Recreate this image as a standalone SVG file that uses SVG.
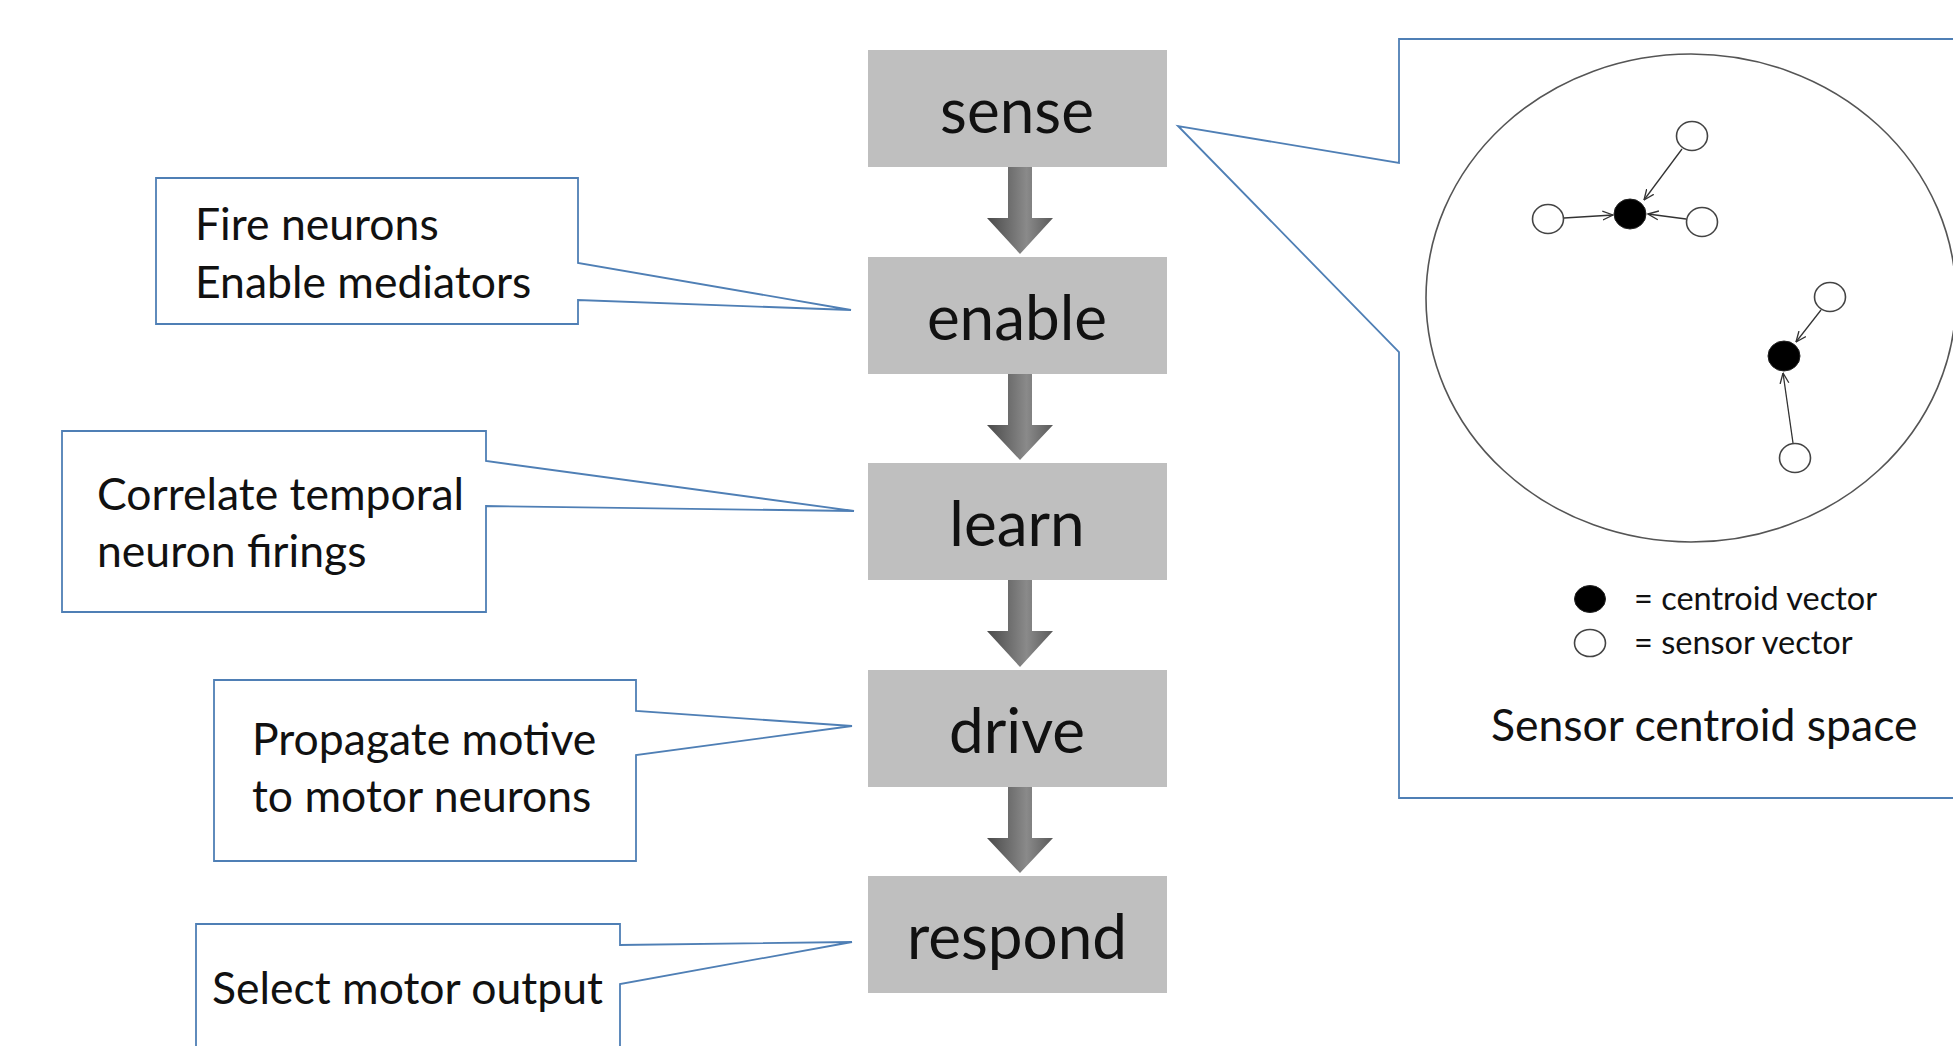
<svg xmlns="http://www.w3.org/2000/svg" width="1953" height="1046" viewBox="0 0 1953 1046">
  <defs>
    <linearGradient id="flowGrad" x1="0" y1="0" x2="1" y2="0">
      <stop offset="0" stop-color="#4a4a4a"/>
      <stop offset="0.6" stop-color="#8a8a8a"/>
      <stop offset="1" stop-color="#5a5a5a"/>
    </linearGradient>
    <marker id="vee" viewBox="0 0 10 10" refX="9.5" refY="5" markerWidth="11" markerHeight="11" markerUnits="userSpaceOnUse" orient="auto">
      <path d="M0,1 L9.5,5 L0,9" fill="none" stroke="#333" stroke-width="1.2"/>
    </marker>
    <style>
      .step { fill: #bfbfbf; }
      .stepText { font-family: Lato, "Open Sans", sans-serif; font-size: 62px; fill: #111; text-anchor: middle; }
      .callout { fill: #fff; stroke: #4f7fb5; stroke-width: 1.8; stroke-linejoin: miter; }
      .note { font-family: Lato, "Open Sans", sans-serif; font-size: 44.5px; fill: #111; }
      .flow { fill: url(#flowGrad); }
      .space { fill: none; stroke: #555; stroke-width: 1.6; }
      .sensor { fill: #fff; stroke: #444; stroke-width: 1.6; }
      .centroid { fill: #000; stroke: #222; stroke-width: 1; }
      .pull { stroke: #333; stroke-width: 1.3; fill: none; marker-end: url(#vee); }
      .legend { font-family: Lato, "Open Sans", sans-serif; font-size: 32.5px; fill: #111; }
      .caption { font-family: Lato, "Open Sans", sans-serif; font-size: 44.5px; fill: #111; }
    </style>
  </defs>

  <rect width="1953" height="1046" fill="#fff"/>

  <!-- processing steps -->
  <g id="sense">
    <rect class="step" x="868" y="50" width="299" height="117"/>
    <text class="stepText" x="1017" y="133">sense</text>
  </g>
  <g id="enable">
    <rect class="step" x="868" y="257" width="299" height="117"/>
    <text class="stepText" x="1017" y="340">enable</text>
  </g>
  <g id="learn">
    <rect class="step" x="868" y="463" width="299" height="117"/>
    <text class="stepText" x="1017" y="546">learn</text>
  </g>
  <g id="drive">
    <rect class="step" x="868" y="670" width="299" height="117"/>
    <text class="stepText" x="1017" y="753">drive</text>
  </g>
  <g id="respond">
    <rect class="step" x="868" y="876" width="299" height="117"/>
    <text class="stepText" x="1017" y="959">respond</text>
  </g>

  <!-- block arrows between steps -->
  <g id="connectors">
    <path class="flow" d="M1008,167 H1032 V218 H1053 L1020,254 L987,218 H1008 Z"/>
    <path class="flow" d="M1008,374 H1032 V425 H1053 L1020,460 L987,425 H1008 Z"/>
    <path class="flow" d="M1008,580 H1032 V631 H1053 L1020,667 L987,631 H1008 Z"/>
    <path class="flow" d="M1008,787 H1032 V838 H1053 L1020,873 L987,838 H1008 Z"/>
  </g>

  <!-- callouts on the left -->
  <g id="note-enable">
    <path class="callout" d="M156,178 H578 V263 L851,310 L578,300 V324 H156 Z"/>
    <text class="note" x="195" y="240">Fire neurons</text>
    <text class="note" x="195" y="298">Enable mediators</text>
  </g>
  <g id="note-learn">
    <path class="callout" d="M62,431 H486 V461 L854,511 L486,506 V612 H62 Z"/>
    <text class="note" x="97" y="510">Correlate temporal</text>
    <text class="note" x="97" y="567">neuron firings</text>
  </g>
  <g id="note-drive">
    <path class="callout" d="M214,680 H636 V711 L852,726 L636,755 V861 H214 Z"/>
    <text class="note" x="252" y="755">Propagate motive</text>
    <text class="note" x="252" y="812">to motor neurons</text>
  </g>
  <g id="note-respond">
    <path class="callout" d="M196,924 H620 V945 L852,942 L620,984 V1060 H196 Z"/>
    <text class="note" x="212" y="1004">Select motor output</text>
  </g>

  <!-- sensor centroid space callout -->
  <g id="centroid-space">
    <path class="callout" d="M1399,39 H1962 V798 H1399 V352 L1178,126 L1399,163 Z"/>
    <ellipse class="space" cx="1691" cy="298" rx="265" ry="244"/>

    <line class="pull" x1="1682" y1="149" x2="1644" y2="200"/>
    <line class="pull" x1="1564" y1="218" x2="1613" y2="215"/>
    <line class="pull" x1="1686" y1="219" x2="1648" y2="214"/>
    <line class="pull" x1="1821" y1="310" x2="1796" y2="342"/>
    <line class="pull" x1="1793" y1="443" x2="1783" y2="373"/>

    <ellipse class="sensor" cx="1692" cy="136" rx="15.5" ry="14.5"/>
    <ellipse class="sensor" cx="1548" cy="219" rx="15.5" ry="14.5"/>
    <ellipse class="sensor" cx="1702" cy="222" rx="15.5" ry="14.5"/>
    <ellipse class="sensor" cx="1830" cy="297" rx="15.5" ry="14.5"/>
    <ellipse class="sensor" cx="1795" cy="458" rx="15.5" ry="14.5"/>
    <ellipse class="centroid" cx="1630" cy="214" rx="16" ry="15"/>
    <ellipse class="centroid" cx="1784" cy="356" rx="16" ry="15"/>

    <ellipse class="centroid" cx="1590" cy="599" rx="15.5" ry="13.5"/>
    <ellipse class="sensor" cx="1590" cy="643" rx="15.5" ry="13.5"/>
    <text class="legend" x="1634" y="610">= centroid vector</text>
    <text class="legend" x="1634" y="654">= sensor vector</text>
    <text class="caption" x="1491" y="741">Sensor centroid space</text>
  </g>
</svg>
